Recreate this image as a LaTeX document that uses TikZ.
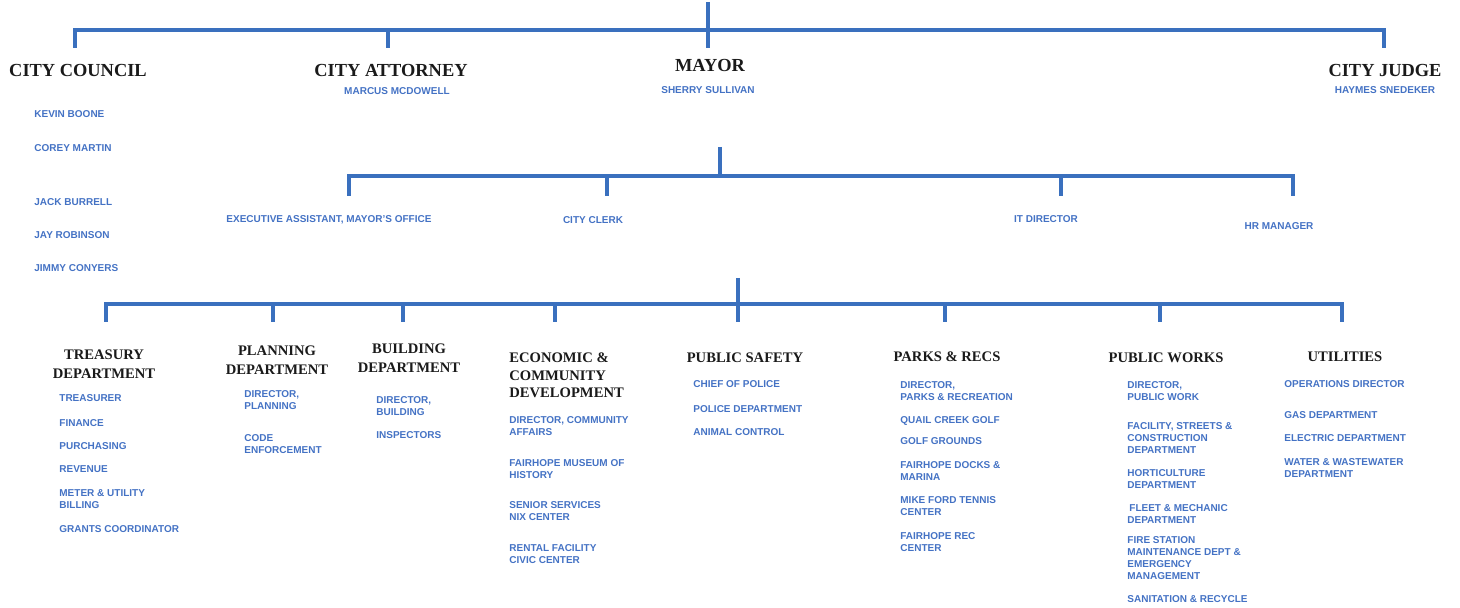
\documentclass[tikz,border=0pt]{standalone}
\usepackage{fontspec}
\setmainfont{Liberation Serif}
\setsansfont{Liberation Sans}
\usepackage{tikz}
\definecolor{orgline}{RGB}{58,112,190}
\definecolor{orgtext}{RGB}{68,114,196}
\definecolor{orghead}{RGB}{26,26,26}
\tikzset{
  bus/.style={orgline,line width=1.8pt},
  officehead/.style={font=\bfseries\fontsize{9.2}{10}\selectfont,text=orghead,inner sep=0pt},
  depthead/.style={font=\bfseries\fontsize{7.3}{9.4}\selectfont,text=orghead,inner sep=0pt,align=center},
  staff/.style={font=\sffamily\bfseries\fontsize{5}{6}\selectfont,text=orgtext,inner sep=0pt,align=left,anchor=north west},
}
% one column of staff under a department: prefix, left edge, list of y/text
\newcommand{\deptitems}[3]{%
  \foreach \iy/\itext [count=\ik] in {#3}{%
    \node[staff] (#1\ik) at (#2,\iy-3.5) {\itext};%
  }%
}

\begin{document}
\begin{tikzpicture}[x=0.5pt,y=-0.5pt]
  \useasboundingbox (0,0) rectangle (1460,608);
  % elected offices
  \node[officehead] (cc) at (78,71) {CITY COUNCIL};
  \node[officehead] (ca) at (391,71) {CITY ATTORNEY};
  \node[officehead] (my) at (710,66) {MAYOR};
  \node[officehead] (cj) at (1385,71) {CITY JUDGE};
  \node[staff,anchor=center] (caname) at (397,91) {MARCUS MCDOWELL};
  \node[staff,anchor=center] (myname) at (708,90) {SHERRY SULLIVAN};
  \node[staff,anchor=center] (cjname) at (1385,90) {HAYMES SNEDEKER};
  \foreach \ty/\who [count=\i] in {114/KEVIN BOONE,148/COREY MARTIN,202/JACK BURRELL,235/JAY ROBINSON,268/JIMMY CONYERS}
    \node[staff,anchor=west] (cm\i) at (34,\ty) {\who};

  \coordinate (mytop) at (708,2);
  \coordinate (topbus) at (708,30);
  \coordinate (ccdrop) at (75,48);
  \coordinate (cadrop) at (388,48);
  \coordinate (mydrop) at (708,48);
  \coordinate (cjdrop) at (1384,48);
  \draw[bus,line width=2.1pt] (ccdrop) -- (ccdrop |- topbus) -| (cjdrop);
  \draw[bus,line width=2.1pt] (cadrop) -- (cadrop |- topbus);
  \draw[bus,line width=2.1pt] (mytop) -- (mydrop);

  % mayor's office
  \node[staff,anchor=center] (ea) at (329,220) {EXECUTIVE ASSISTANT, MAYOR'S OFFICE};
  \node[staff,anchor=center] (clerk) at (593,220) {CITY CLERK};
  \node[staff,anchor=center] (itd) at (1046,219) {IT DIRECTOR};
  \node[staff,anchor=center] (hr) at (1279,226) {HR MANAGER};
  \coordinate (stafftop) at (720,147);
  \coordinate (staffbus) at (720,176);
  \coordinate (eadrop) at (349,196);
  \coordinate (clerkdrop) at (607,196);
  \coordinate (itdrop) at (1061,196);
  \coordinate (hrdrop) at (1293,196);
  \draw[bus] (stafftop) -- (staffbus);
  \draw[bus] (eadrop) -- (eadrop |- staffbus) -| (hrdrop);
  \draw[bus] (clerkdrop) -- (clerkdrop |- staffbus);
  \draw[bus] (itdrop) -- (itdrop |- staffbus);

  % departments
  \coordinate (depttop) at (738,278);
  \coordinate (deptbus) at (738,304);
  \foreach \dx [count=\i] in {106,273,403,555,738,945,1160,1342}
    \coordinate (dd\i) at (\dx,322);
  \draw[bus] (dd1) -- (dd1 |- deptbus) -| (dd8);
  \foreach \i in {2,3,4,6,7}
    \draw[bus] (dd\i) -- (dd\i |- deptbus);
  \draw[bus] (depttop) -- (dd5);

  \node[depthead] (trd) at (104,364) {TREASURY\\DEPARTMENT};
  \node[depthead] (pld) at (277,360) {PLANNING\\DEPARTMENT};
  \node[depthead] (bld) at (409,358.5) {BUILDING\\DEPARTMENT};
  \node[depthead,align=left,anchor=north west,font=\bfseries\fontsize{7.3}{8.8}\selectfont] (ecd) at (509,352.5) {ECONOMIC \&\\COMMUNITY\\DEVELOPMENT};
  \node[depthead] (psd) at (745,358) {PUBLIC SAFETY};
  \node[depthead] (prd) at (947,357) {PARKS \& RECS};
  \node[depthead] (pwd) at (1166,358) {PUBLIC WORKS};
  \node[depthead] (utd) at (1345,357) {UTILITIES};

  \deptitems{tr}{59}{398/TREASURER,423/FINANCE,446/PURCHASING,469/REVENUE,493/{METER \& UTILITY\\BILLING},529/GRANTS COORDINATOR}
  \deptitems{pl}{244}{394/{DIRECTOR,\\PLANNING},438/{CODE\\ENFORCEMENT}}
  \deptitems{bl}{376}{400/{DIRECTOR,\\BUILDING},435/INSPECTORS}
  \deptitems{ec}{509}{420/{DIRECTOR, COMMUNITY\\AFFAIRS},463/{FAIRHOPE MUSEUM OF\\HISTORY},505/{SENIOR SERVICES\\NIX CENTER},548/{RENTAL FACILITY\\CIVIC CENTER}}
  \deptitems{ps}{693}{384/CHIEF OF POLICE,409/POLICE DEPARTMENT,432/ANIMAL CONTROL}
  \deptitems{pr}{900}{385/{DIRECTOR,\\PARKS \& RECREATION},420/QUAIL CREEK GOLF,441/GOLF GROUNDS,465/{FAIRHOPE DOCKS \&\\MARINA},500/{MIKE FORD TENNIS\\CENTER},536/{FAIRHOPE REC\\CENTER}}
  \deptitems{pw}{1127}{385/{DIRECTOR,\\PUBLIC WORK},426/{FACILITY, STREETS \&\\CONSTRUCTION\\DEPARTMENT},473/{HORTICULTURE\\DEPARTMENT},508/{\hspace{1pt}FLEET \& MECHANIC\\DEPARTMENT},540/{FIRE STATION\\MAINTENANCE DEPT \&\\EMERGENCY\\MANAGEMENT},599/SANITATION \& RECYCLE}
  \deptitems{ut}{1284}{384/OPERATIONS DIRECTOR,415/GAS DEPARTMENT,438/ELECTRIC DEPARTMENT,462/{WATER \& WASTEWATER\\DEPARTMENT}}
\end{tikzpicture}
\end{document}
